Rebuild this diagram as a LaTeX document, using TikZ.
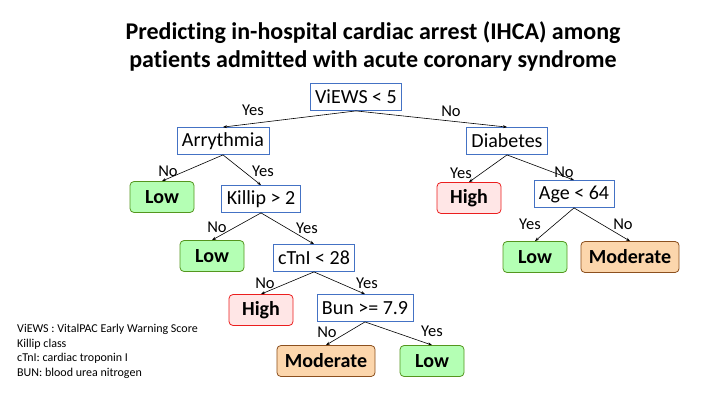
\documentclass[tikz,border=0pt]{standalone}
\usepackage{fontspec}
\setmainfont{Carlito}[Ligatures=NoCommon]
\definecolor{SplitBlue}{RGB}{68,114,196}
\definecolor{LowFill}{RGB}{180,255,180}
\definecolor{LowLine}{RGB}{84,150,30}
\definecolor{HighFill}{RGB}{255,230,230}
\definecolor{HighLine}{RGB}{235,30,30}
\definecolor{ModFill}{RGB}{252,214,172}
\definecolor{ModLine}{RGB}{140,80,30}
\usetikzlibrary{arrows.meta}

\begin{document}
\begin{tikzpicture}[x=1pt,y=-1pt,
        split/.style={draw=SplitBlue,fill=white,line width=0.8pt,
                      minimum height=27pt,inner xsep=5pt,
                      font=\fontsize{20}{22}\selectfont},
        leaf/.style={rounded corners=4pt,line width=0.8pt,
                     minimum height=31pt,minimum width=64pt,inner xsep=8pt,
                     font=\fontsize{20}{22}\selectfont\bfseries},
        low/.style={leaf,draw=LowLine,fill=LowFill},
        high/.style={leaf,draw=HighLine,fill=HighFill},
        moder/.style={leaf,draw=ModLine,fill=ModFill},
        lab/.style={inner sep=0pt,font=\fontsize{16.5}{18}\selectfont},
        arrow/.style={-{Stealth[length=4pt,width=3pt]},line width=0.6pt}]
        \useasboundingbox (0,0) rectangle (720,405);

        \node[align=center,font=\fontsize{24}{28}\selectfont\bfseries] (title) at (373,46)
          {Predicting in-hospital cardiac arrest (IHCA) among\\patients admitted with acute coronary syndrome};

        % Split nodes
        \node[split] (views) at (356,97)  {ViEWS < 5};
        \node[split] (arry)  at (223,141) {Arrythmia};
        \node[split] (diab)  at (507,141) {Diabetes};
        \node[split] (killip) at (261,199) {Killip > 2};
        \node[split] (age)   at (574,194) {Age < 64};
        \node[split] (ctni)  at (314,258) {cTnI < 28};
        \node[split] (bun)   at (365,308) {Bun >= 7.9};

        % Leaves
        \node[low]   (lowA)  at (162,197) {Low};
        \node[high]  (highA) at (469,198) {High};
        \node[low]   (lowB)  at (212,256) {Low};
        \node[low]   (lowC)  at (535,257) {Low};
        \node[moder] (modA)  at (630,257) {Moderate};
        \node[high]  (highB) at (261,310) {High};
        \node[moder] (modB)  at (326,361) {Moderate};
        \node[low]   (lowD)  at (432,361) {Low};

        % Branches
        \draw[arrow] (views.south) -- (arry.north);
        \draw[arrow] (views.south) -- (diab.north);
        \draw[arrow] (arry.south) -- (lowA.north);
        \draw[arrow] (arry.south) -- (killip.north);
        \draw[arrow] (killip.south) -- (lowB.north);
        \draw[arrow] (killip.south) -- (ctni.north);
        \draw[arrow] (ctni.south) -- (highB.north);
        \draw[arrow] (ctni.south) -- (bun.north);
        \draw[arrow] (bun.south) -- (modB.north);
        \draw[arrow] (bun.south) -- (lowD.north);
        \draw[arrow] (diab.south) -- (highA.north);
        \draw[arrow] (diab.south) -- (age.north);
        \draw[arrow] (age.south) -- (lowC.north);
        \draw[arrow] (age.south) -- (modA.north);

        % Branch labels
        \node[lab] (y1) at (253,110) {Yes};
        \node[lab] (n1) at (451,111) {No};
        \node[lab] (n2) at (168,171) {No};
        \node[lab] (y2) at (263,171) {Yes};
        \node[lab] (n3) at (217,227) {No};
        \node[lab] (y3) at (307,228) {Yes};
        \node[lab] (n4) at (265,283) {No};
        \node[lab] (y4) at (367,283) {Yes};
        \node[lab] (n5) at (327,332) {No};
        \node[lab] (y5) at (432,331) {Yes};
        \node[lab] (y6) at (461,173) {Yes};
        \node[lab] (n6) at (564,172) {No};
        \node[lab] (y7) at (530,224) {Yes};
        \node[lab] (n7) at (623,224) {No};

        \node[anchor=north west,align=left,inner sep=0pt,
              font=\fontsize{12}{14.5}\selectfont] (legend) at (17,324)
          {ViEWS : VitalPAC Early Warning Score\\Killip class\\cTnI: cardiac troponin I\\BUN: blood urea nitrogen};
      \end{tikzpicture}
\end{document}
